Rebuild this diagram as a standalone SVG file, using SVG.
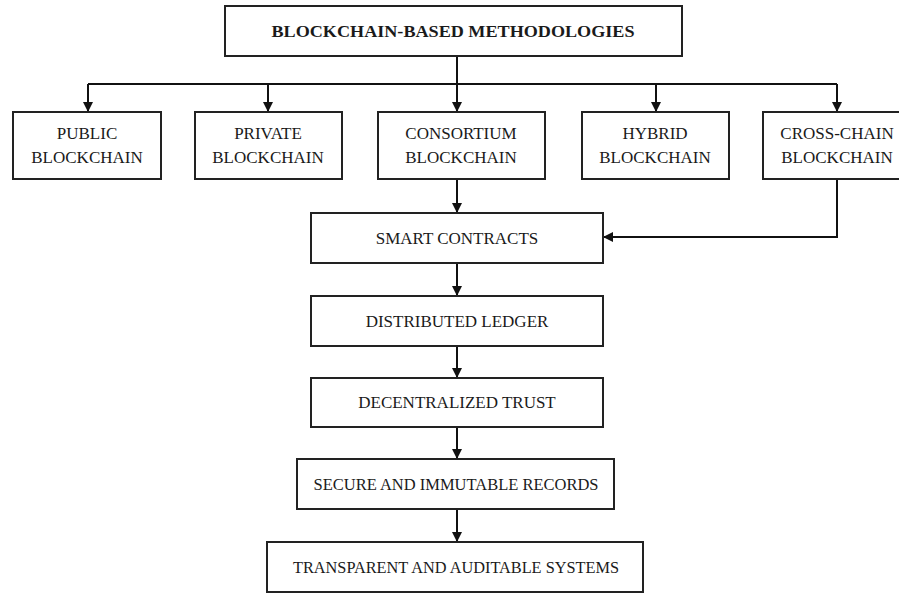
<svg xmlns="http://www.w3.org/2000/svg" width="899" height="594" viewBox="0 0 899 594">
<defs>
<marker id="ah" markerWidth="10" markerHeight="10" refX="9" refY="5" orient="auto" markerUnits="userSpaceOnUse">
<path d="M0,0 L10,5 L0,10 Z" fill="#111"/>
</marker>
<style>
.box{fill:#fff;stroke:#222;stroke-width:2}
.t{font-family:"Liberation Serif","Times New Roman",serif;font-size:17px;fill:#1a1a1a;text-anchor:middle}
.tb{font-weight:bold}
.c{fill:none;stroke:#111;stroke-width:2}
</style>
</defs>
<rect width="899" height="594" fill="#fff"/>
<g id="connectors">
<path class="c" d="M457,56 V84"/>
<path class="c" d="M88,84 H837"/>
<path class="c" d="M88,84 V111" marker-end="url(#ah)"/>
<path class="c" d="M268,84 V111" marker-end="url(#ah)"/>
<path class="c" d="M457,84 V111" marker-end="url(#ah)"/>
<path class="c" d="M656,84 V111" marker-end="url(#ah)"/>
<path class="c" d="M837,84 V111" marker-end="url(#ah)"/>
<path class="c" d="M457,179 V212" marker-end="url(#ah)"/>
<path class="c" d="M837,179 V237 H604" marker-end="url(#ah)"/>
<path class="c" d="M457,263 V295" marker-end="url(#ah)"/>
<path class="c" d="M457,346 V377" marker-end="url(#ah)"/>
<path class="c" d="M457,427 V458" marker-end="url(#ah)"/>
<path class="c" d="M457,509 V541" marker-end="url(#ah)"/>
</g>
<g id="root">
<rect class="box" x="225" y="6" width="457" height="50"/>
<text class="t tb" x="453" y="37" textLength="363" lengthAdjust="spacingAndGlyphs">BLOCKCHAIN-BASED METHODOLOGIES</text>
</g>
<g id="public">
<rect class="box" x="13" y="112" width="148" height="67"/>
<text class="t" x="87" y="139">PUBLIC</text>
<text class="t" x="87" y="163">BLOCKCHAIN</text>
</g>
<g id="private">
<rect class="box" x="195" y="112" width="147" height="67"/>
<text class="t" x="268" y="139">PRIVATE</text>
<text class="t" x="268" y="163">BLOCKCHAIN</text>
</g>
<g id="consortium">
<rect class="box" x="378" y="112" width="167" height="67"/>
<text class="t" x="461" y="139">CONSORTIUM</text>
<text class="t" x="461" y="163">BLOCKCHAIN</text>
</g>
<g id="hybrid">
<rect class="box" x="582" y="112" width="147" height="67"/>
<text class="t" x="655" y="139">HYBRID</text>
<text class="t" x="655" y="163">BLOCKCHAIN</text>
</g>
<g id="crosschain">
<rect class="box" x="763" y="112" width="148" height="67"/>
<text class="t" x="837" y="139">CROSS-CHAIN</text>
<text class="t" x="837" y="163">BLOCKCHAIN</text>
</g>
<g id="smart">
<rect class="box" x="311" y="213" width="292" height="50"/>
<text class="t" x="457" y="244">SMART CONTRACTS</text>
</g>
<g id="ledger">
<rect class="box" x="311" y="296" width="292" height="50"/>
<text class="t" x="457" y="327">DISTRIBUTED LEDGER</text>
</g>
<g id="trust">
<rect class="box" x="311" y="378" width="292" height="49"/>
<text class="t" x="457" y="408">DECENTRALIZED TRUST</text>
</g>
<g id="secure">
<rect class="box" x="297" y="459" width="317" height="50"/>
<text class="t" x="456" y="490" textLength="285" lengthAdjust="spacingAndGlyphs">SECURE AND IMMUTABLE RECORDS</text>
</g>
<g id="transparent">
<rect class="box" x="267" y="542" width="376" height="50"/>
<text class="t" x="456" y="573" textLength="326" lengthAdjust="spacingAndGlyphs">TRANSPARENT AND AUDITABLE SYSTEMS</text>
</g>
</svg>
